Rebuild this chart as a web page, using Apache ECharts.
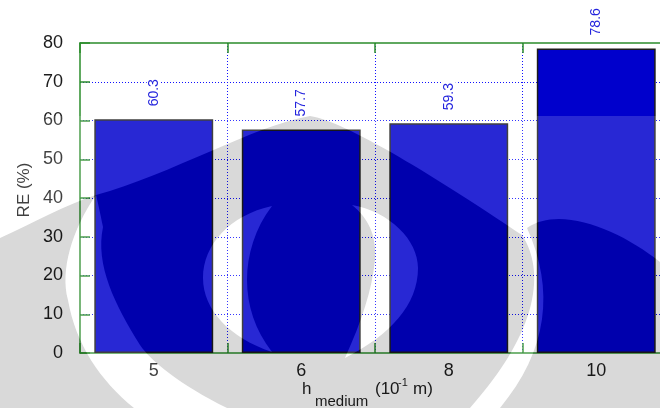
<!DOCTYPE html>
<html>
<head>
<meta charset="utf-8">
<script src="https://cdn.jsdelivr.net/npm/echarts@6/dist/echarts.min.js"></script>
<style>
  html, body { margin: 0; padding: 0; background: #ffffff; }
  #chart { width: 660px; height: 408px; }
</style>
</head>
<body>
<div id="chart"></div>
<script>
// Removal efficiency for each medium height
const categories = ['5', '6', '8', '10'];
const reValues = [60.3, 57.7, 59.3, 78.6];

// Value axis ticks
const yMin = 0;
const yMax = 80;
const yStep = 10;

const FONT = "'Liberation Sans', Arial, sans-serif";
const GREEN = '#2b8c2b';
const INK = '#1c1c1c';
const DOTTED = { color: '#1010ff', type: [1, 2], width: 1 };

// Background logo, drawn onto two offscreen canvases and laid over the chart
// with blend modes (grey parts multiply, light parts screen).
const W = 660, H = 408;
const logoGrey = [
  'M0,238 C35,222 65,205 96,195 C72,230 60,270 68,300 C76,345 100,380 134,408 L0,408 Z',
  'M96,195 C170,175 255,125 310,116 C350,122 455,190 522,235 C545,270 540,330 470,408 L227,408 C180,385 150,360 140,345 C115,305 95,265 103,227 C100,212 98,203 96,195 Z',
  'M527,228 C560,205 620,230 660,262 L660,408 L500,408 C548,350 555,290 527,228 Z'
];
const logoHoles = [
  'M272,206 C230,215 203,245 203,278 C203,310 230,338 272,352 C255,330 247,305 247,280 C247,255 255,228 272,206 Z',
  'M352,205 C390,212 418,240 418,268 C418,305 390,335 345,358 C362,320 372,290 375,260 C377,235 368,218 352,205 Z'
];
const logoTop = 116;

function makeLayer(base, band, grey, hole) {
  const c = document.createElement('canvas');
  c.width = W; c.height = H;
  const g = c.getContext('2d');
  g.fillStyle = base; g.fillRect(0, 0, W, H);
  g.fillStyle = band; g.fillRect(0, logoTop, W, H - logoTop);
  g.fillStyle = grey; logoGrey.forEach(d => g.fill(new Path2D(d)));
  g.fillStyle = hole; logoHoles.forEach(d => g.fill(new Path2D(d)));
  return c;
}
const multiplyLayer = makeLayer('#ffffff', '#ffffff', '#d9d9d9', '#ffffff');
const screenLayer = makeLayer('#000000', '#282828', '#000000', '#282828');

// Axis title pieces: h with subscript "medium", then (10^-1 m)
function titlePiece(text, x, y, size) {
  return {
    type: 'text', x: x, y: y, z: 50, silent: true,
    style: { text: text, fontSize: size, fontFamily: FONT, fill: INK, align: 'left', verticalAlign: 'middle' }
  };
}

const chart = echarts.init(document.getElementById('chart'), null, { renderer: 'canvas' });

const option = {
  backgroundColor: '#ffffff',
  animation: false,
  grid: { left: 80, top: 43, width: 590, height: 310, outerBoundsMode: 'none', containLabel: false },
  xAxis: [
    {
      type: 'category',
      data: categories,
      position: 'bottom',
      axisLine: { lineStyle: { color: GREEN, width: 1.5 } },
      axisTick: { show: true, inside: true, length: 10, lineStyle: { color: GREEN, width: 1.5 } },
      axisLabel: { fontSize: 18, color: INK, margin: 9, fontFamily: FONT },
      splitLine: { show: true, showMinLine: false, lineStyle: DOTTED }
    },
    {
      type: 'category',
      data: categories,
      position: 'top',
      axisLine: { lineStyle: { color: GREEN, width: 1.5 } },
      axisTick: { show: true, inside: true, length: 10, lineStyle: { color: GREEN, width: 1.5 } },
      axisLabel: { show: false },
      splitLine: { show: false }
    }
  ],
  yAxis: [
    {
      type: 'value',
      min: yMin,
      max: yMax,
      interval: yStep,
      axisLine: { show: true, lineStyle: { color: GREEN, width: 1.5 } },
      axisTick: { show: true, inside: true, length: 10, lineStyle: { color: GREEN, width: 1.5 } },
      axisLabel: { fontSize: 18, color: INK, margin: 17, fontFamily: FONT },
      splitLine: { show: true, showMinLine: false, showMaxLine: false, lineStyle: DOTTED },
      name: 'RE (%)',
      nameLocation: 'middle',
      nameRotate: 90,
      nameGap: 47,
      nameMoveOverlap: false,
      nameTextStyle: { fontSize: 17, color: INK, fontFamily: FONT, padding: [0, 0, 0, 16] }
    }
  ],
  series: [
    {
      type: 'bar',
      data: reValues,
      barCategoryGap: '19.4%',
      itemStyle: { color: '#0000cc', borderColor: INK, borderWidth: 1.5 },
      label: {
        show: true,
        position: 'top',
        rotate: 90,
        align: 'left',
        verticalAlign: 'middle',
        distance: 11,
        fontSize: 14,
        fontFamily: FONT,
        color: '#2424dd',
        backgroundColor: '#ffffff',
        padding: [0, 2],
        formatter: p => p.value.toFixed(1)
      }
    }
  ],
  graphic: [
    titlePiece('h', 302, 389, 17),
    titlePiece('medium', 315, 402, 15),
    titlePiece('(10', 375, 389, 17),
    titlePiece('-1', 398, 383, 11),
    titlePiece('m)', 413, 389, 17),
    {
      type: 'image', left: 0, top: 0, z: 100, silent: true,
      style: { image: multiplyLayer, x: 0, y: 0, width: W, height: H, blend: 'multiply' }
    },
    {
      type: 'image', left: 0, top: 0, z: 101, silent: true,
      style: { image: screenLayer, x: 0, y: 0, width: W, height: H, blend: 'screen' }
    }
  ]
};

chart.setOption(option);
</script>
</body>
</html>
